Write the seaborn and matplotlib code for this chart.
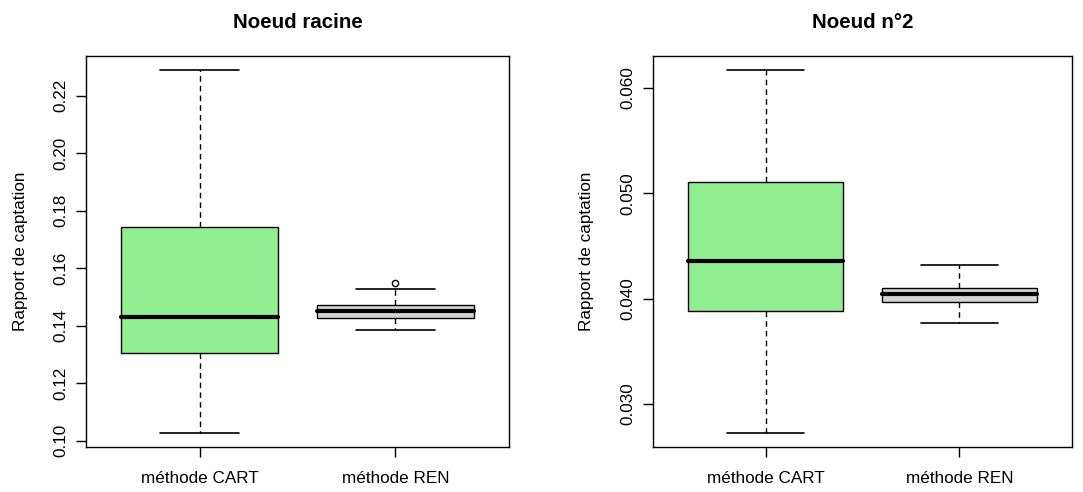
import matplotlib
matplotlib.use("Agg")
import matplotlib.pyplot as plt
import seaborn as sns

# Box summaries per method: lower whisker, Q1, median, Q3, upper whisker, outliers
methods = ["méthode CART", "méthode REN"]
titles = ["Noeud racine", "Noeud n°2"]
ylabel = "Rapport de captation"

root_whislo = [0.1029, 0.1387]
root_q1 = [0.1307, 0.1428]
root_med = [0.1429, 0.1450]
root_q3 = [0.1743, 0.1473]
root_whishi = [0.2288, 0.1529]
root_fliers = [[], [0.1550]]

node2_whislo = [0.0273, 0.03768]
node2_q1 = [0.03879, 0.03965]
node2_med = [0.04355, 0.04047]
node2_q3 = [0.05108, 0.04104]
node2_whishi = [0.06165, 0.04317]
node2_fliers = [[], []]

root_ticks = [0.10, 0.12, 0.14, 0.16, 0.18, 0.20, 0.22]
node2_ticks = [0.030, 0.040, 0.050, 0.060]
fill_colors = ["#90EE90", "#D3D3D3"]

sns.set_theme(style="white")
plt.rcParams["font.family"] = ["Liberation Sans", "DejaVu Sans"]
plt.rcParams.update({"text.color": "black", "axes.labelcolor": "black",
                     "xtick.color": "black", "ytick.color": "black"})

W, H = 1083, 492
fig = plt.figure(figsize=(W / 100, H / 100), dpi=100)


def make_stats(whislo, q1, med, q3, whishi, fliers):
    return [dict(label=m, whislo=a, q1=b, med=c, q3=d, whishi=e, fliers=f)
            for m, a, b, c, d, e, f in zip(methods, whislo, q1, med, q3, whishi, fliers)]


def draw(rect, stats, ticks, fmt, title):
    ax = fig.add_axes(rect)
    arts = ax.bxp(stats, positions=[1, 2], widths=0.8, capwidths=0.4,
                  patch_artist=True, showfliers=True,
                  boxprops=dict(edgecolor="black", linewidth=1.0),
                  medianprops=dict(color="black", linewidth=3.0, solid_capstyle="round"),
                  whiskerprops=dict(color="black", linewidth=1.0, linestyle=(0, (4, 3))),
                  capprops=dict(color="black", linewidth=1.2),
                  flierprops=dict(marker="o", markerfacecolor="none",
                                  markeredgecolor="black", markersize=4.5,
                                  markeredgewidth=1.0))
    for patch, col in zip(arts["boxes"], fill_colors):
        patch.set_facecolor(col)
    lo = min(s["whislo"] for s in stats)
    hi = max(max([s["whishi"]] + list(s["fliers"])) for s in stats)
    pad = (hi - lo) * 0.04
    ax.set_ylim(lo - pad, hi + pad)
    ax.set_xlim(0.42, 2.58)
    ax.set_xticks([1, 2])
    ax.set_xticklabels(methods, fontsize=12.3)
    ax.set_yticks(ticks)
    ax.set_yticklabels([fmt.format(t) for t in ticks], fontsize=12.3, rotation=90, va="center")
    ax.tick_params(axis="both", direction="out", length=7.5, width=1.0, color="black",
                   left=True, bottom=True)
    ax.tick_params(axis="y", pad=5)
    ax.tick_params(axis="x", pad=10)
    for sp in ax.spines.values():
        sp.set_visible(True)
        sp.set_color("black")
        sp.set_linewidth(1.0)
    ax.set_ylabel(ylabel, fontsize=12.3)
    ax.set_title(title, fontsize=14.8, fontweight="bold", pad=20)
    return ax


ax1 = draw([86 / W, 45 / H, 423 / W, 391 / H],
           make_stats(root_whislo, root_q1, root_med, root_q3, root_whishi, root_fliers),
           root_ticks, "{:.2f}", titles[0])
ax1.yaxis.set_label_coords(-0.138, 0.5)

ax2 = draw([653 / W, 45 / H, 419 / W, 391 / H],
           make_stats(node2_whislo, node2_q1, node2_med, node2_q3, node2_whishi, node2_fliers),
           node2_ticks, "{:.3f}", titles[1])
ax2.yaxis.set_label_coords(-0.14, 0.5)

fig.savefig("out.png", dpi=100)
